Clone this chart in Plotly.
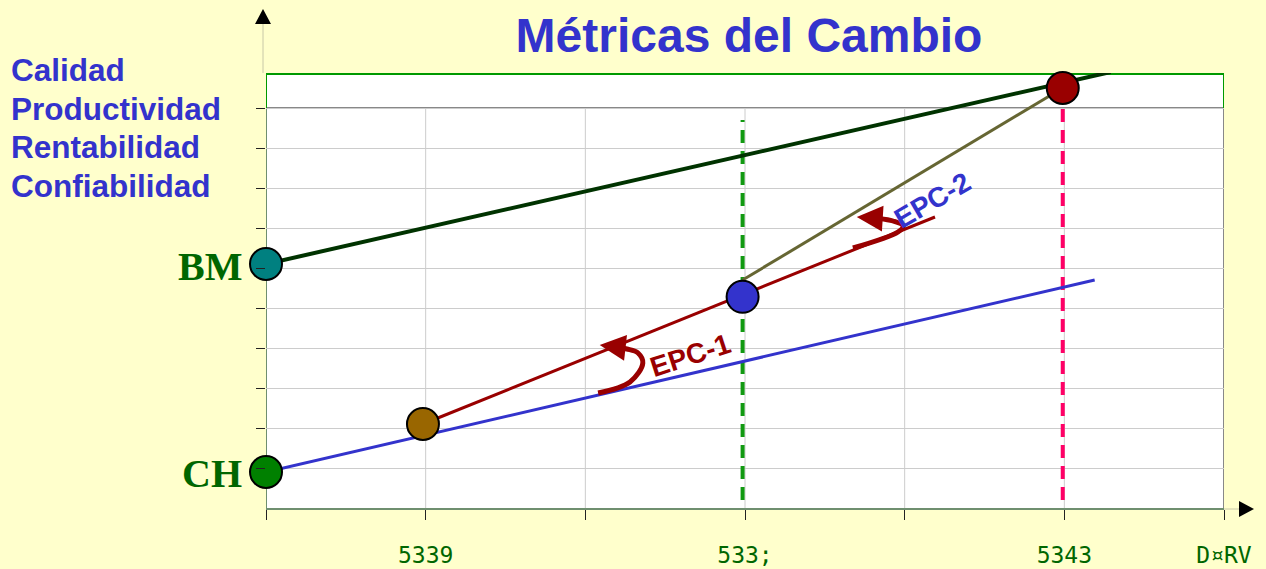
import plotly.graph_objects as go

# ---------------- data ----------------
title_text = "Métricas del Cambio"
metric_labels = ["Calidad", "Productividad", "Rentabilidad", "Confiabilidad"]
x_tick_vals = [0, 1, 2, 3, 4, 5, 6]
x_tick_text = ["", "5339", "", "533;", "", "5343", "D¤RV"]
y_tick_vals = [1, 2, 3, 4, 5, 6, 7, 8, 9, 10]

bm_line_x = [0, 5.29]
bm_line_y = [6.1, 10.9]
ch_line_x = [0, 5.19]
ch_line_y = [0.9, 5.7]
epc_line_x = [0.983, 4.19]
epc_line_y = [2.1, 7.275]
olive_line_x = [2.985, 4.99]
olive_line_y = [5.7, 10.5]
green_dash_x = [2.985, 2.985]
green_dash_y = [0.2, 9.7]
pink_dash_x = [4.99, 4.99]
pink_dash_y = [0.2, 10.1]

point_labels = ["CH", "BM", "inicio", "EPC-1", "EPC-2"]
point_x = [0, 0, 0.983, 2.985, 4.99]
point_y = [0.9, 6.1, 2.1, 5.28, 10.5]
point_colors = ["#008000", "#008080", "#996600", "#3333CC", "#990000"]

epc1_curve_x = [2.08, 2.28, 2.36, 2.33, 2.26, 2.19]
epc1_curve_y = [2.875, 3.15, 3.625, 3.875, 3.975, 4.03]
epc1_tip = (2.09, 4.075)
epc2_curve_x = [3.676, 3.958, 3.99, 3.927, 3.84]
epc2_curve_y = [6.5, 6.9, 7.05, 7.175, 7.24]
epc2_tip = (3.70, 7.275)

side_labels = ["BM", "CH"]
side_label_y = [6.03, 0.875]

# ---------------- layout geometry (pixels) ----------------
W, H = 1266, 569
L, R, T, B = 266, 1224, 73, 508
XMAX = 6
YMAX = 10.875
YGRID_TOP = 10


def pxx(px):
    return (px - L) / (R - L)


def pxy(py):
    return (B - py) / (B - T)


BG = "#FFFFCC"
BLUE = "#3333CC"
DKGREEN = "#006600"
DKRED = "#990000"

fig = go.Figure()

# green-bordered top strip (drawn first, beneath everything)
fig.add_trace(go.Scatter(x=[0, 0, XMAX, XMAX], y=[YGRID_TOP, YMAX - 0.025, YMAX - 0.025, YGRID_TOP],
                         mode="lines", line=dict(color="#009900", width=2),
                         hoverinfo="skip", cliponaxis=False))

# dashed verticals
fig.add_trace(go.Scatter(x=green_dash_x, y=green_dash_y, mode="lines",
                         line=dict(color="#119911", width=4, dash="13px,8px"),
                         hoverinfo="skip", cliponaxis=False))
fig.add_trace(go.Scatter(x=pink_dash_x, y=pink_dash_y, mode="lines",
                         line=dict(color="#FF0066", width=4, dash="13px,8px"),
                         hoverinfo="skip", cliponaxis=False))

# main lines
fig.add_trace(go.Scatter(x=ch_line_x, y=ch_line_y, mode="lines",
                         line=dict(color=BLUE, width=3), hoverinfo="skip", cliponaxis=False))
fig.add_trace(go.Scatter(x=bm_line_x, y=bm_line_y, mode="lines",
                         line=dict(color="#003300", width=4), hoverinfo="skip", cliponaxis=False))
fig.add_trace(go.Scatter(x=epc_line_x, y=epc_line_y, mode="lines",
                         line=dict(color=DKRED, width=3), hoverinfo="skip", cliponaxis=False))
fig.add_trace(go.Scatter(x=olive_line_x, y=olive_line_y, mode="lines",
                         line=dict(color="#666633", width=3), hoverinfo="skip", cliponaxis=False))

# EPC curved arrows
fig.add_trace(go.Scatter(x=epc1_curve_x, y=epc1_curve_y, mode="lines",
                         line=dict(color=DKRED, width=5, shape="spline"), hoverinfo="skip"))
fig.add_trace(go.Scatter(x=epc2_curve_x, y=epc2_curve_y, mode="lines",
                         line=dict(color=DKRED, width=5, shape="spline"), hoverinfo="skip"))

# points
fig.add_trace(go.Scatter(x=point_x, y=point_y, mode="markers", text=point_labels,
                         marker=dict(size=32, color=point_colors,
                                     line=dict(color="#000000", width=2)),
                         hoverinfo="text", cliponaxis=False))

shapes = []
# vertical gridlines (only below the top strip)
for xv in x_tick_vals[1:-1]:
    shapes.append(dict(type="line", xref="x", yref="y", x0=xv, x1=xv, y0=0, y1=YGRID_TOP,
                       line=dict(color="#CCCCCC", width=1), layer="below"))
# darker top gridline
shapes.append(dict(type="line", xref="x", yref="y", x0=0, x1=XMAX, y0=YGRID_TOP, y1=YGRID_TOP,
                   line=dict(color="#888888", width=2), layer="below"))
# right border below strip
shapes.append(dict(type="line", xref="x", yref="y", x0=XMAX, x1=XMAX, y0=0, y1=YGRID_TOP,
                   line=dict(color="#888888", width=2), layer="below"))
# left border below strip
shapes.append(dict(type="line", xref="x", yref="y", x0=0, x1=0, y0=0, y1=YGRID_TOP,
                   line=dict(color="#6F8F6F", width=2), layer="below"))
# y axis extension up to arrow
shapes.append(dict(type="line", xref="paper", yref="paper", x0=pxx(263), x1=pxx(263),
                   y0=1.0, y1=pxy(22), line=dict(color="#C8C8A8", width=1)))
# x axis extension to arrow
shapes.append(dict(type="line", xref="paper", yref="paper", x0=1.0, x1=pxx(1242),
                   y0=pxy(509), y1=pxy(509), line=dict(color="#C8C8A8", width=1)))
# arrow heads
shapes.append(dict(type="path", xref="paper", yref="paper",
                   path=f"M {pxx(255)},{pxy(24)} L {pxx(263)},{pxy(9)} L {pxx(271)},{pxy(24)} Z",
                   fillcolor="#000000", line=dict(color="#000000", width=0)))
shapes.append(dict(type="path", xref="paper", yref="paper",
                   path=f"M {pxx(1239)},{pxy(501)} L {pxx(1254)},{pxy(509)} L {pxx(1239)},{pxy(517)} Z",
                   fillcolor="#000000", line=dict(color="#000000", width=0)))

annotations = []
# metric labels on the left
for i, lab in enumerate(metric_labels):
    annotations.append(dict(text=f"<b>{lab}</b>", xref="paper", yref="paper",
                            x=pxx(9), y=pxy(70 + 38.5 * i), xanchor="left", yanchor="middle",
                            showarrow=False,
                            font=dict(family="Liberation Sans, Arial", size=31.5, color=BLUE)))
# BM / CH labels
for lab, yy in zip(side_labels, side_label_y):
    annotations.append(dict(text=f"<b>{lab}</b>", xref="paper", yref="y",
                            x=pxx(244), y=yy, xanchor="right", yanchor="middle",
                            showarrow=False,
                            font=dict(family="Liberation Serif, Times New Roman", size=40,
                                      color=DKGREEN)))
# EPC texts
annotations.append(dict(text="<b>EPC-1</b>", xref="x", yref="y", x=2.655, y=3.825,
                        showarrow=False, textangle=-18,
                        font=dict(family="Liberation Sans, Arial", size=28, color=DKRED)))
annotations.append(dict(text="<b>EPC-2</b>", xref="x", yref="y", x=4.171, y=7.7,
                        showarrow=False, textangle=-30,
                        font=dict(family="Liberation Sans, Arial", size=28, color=BLUE)))
# arrow heads for EPC curves
annotations.append(dict(text="", xref="x", yref="y", axref="x", ayref="y",
                        x=epc1_tip[0], y=epc1_tip[1],
                        ax=epc1_curve_x[-1], ay=epc1_curve_y[-1],
                        showarrow=True, arrowhead=2, arrowsize=1.3, arrowwidth=4,
                        arrowcolor=DKRED))
annotations.append(dict(text="", xref="x", yref="y", axref="x", ayref="y",
                        x=epc2_tip[0], y=epc2_tip[1],
                        ax=epc2_curve_x[-1], ay=epc2_curve_y[-1],
                        showarrow=True, arrowhead=2, arrowsize=1.3, arrowwidth=4,
                        arrowcolor=DKRED))

fig.update_layout(
    width=W, height=H,
    margin=dict(l=L, r=W - R, t=T, b=H - B, pad=0, autoexpand=False),
    paper_bgcolor=BG, plot_bgcolor="#FFFFFF",
    showlegend=False,
    title=dict(text=f"<b>{title_text}</b>", x=749 / W, xanchor="center",
               y=1 - 35 / H, yanchor="middle", yref="container",
               font=dict(family="Liberation Sans, Arial", size=48, color=BLUE)),
    shapes=shapes, annotations=annotations,
    xaxis=dict(range=[0, XMAX], tickvals=x_tick_vals, ticktext=x_tick_text,
               showgrid=False, automargin=False,
               showline=True, linecolor="#6F8F6F", linewidth=2,
               ticks="outside", ticklen=10, tickcolor="#222222", tickwidth=1,
               ticklabelstandoff=15,
               tickfont=dict(family="DejaVu Sans Mono", size=23, color=DKGREEN),
               zeroline=False, fixedrange=True),
    yaxis=dict(range=[0, YMAX], tickvals=y_tick_vals, showticklabels=False,
               showgrid=True, gridcolor="#CCCCCC", gridwidth=1,
               showline=False, automargin=False,
               ticks="outside", ticklen=9, tickcolor="#222222", tickwidth=1,
               zeroline=False, fixedrange=True),
)

fig.write_html("out.html", config={"displayModeBar": False},
               post_script="document.body.style.margin='0px';")
